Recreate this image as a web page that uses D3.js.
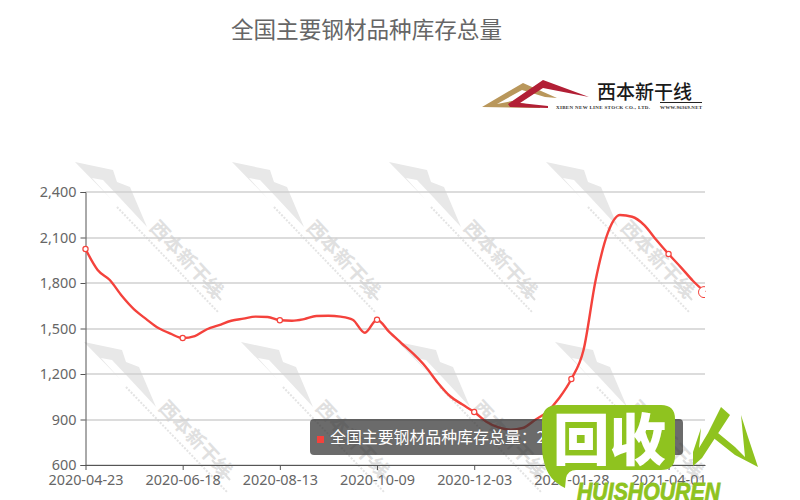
<!DOCTYPE html>
<html>
<head>
<meta charset="utf-8">
<script src="https://cdn.jsdelivr.net/npm/d3@7/dist/d3.min.js"></script>
<style>
html,body{margin:0;padding:0;background:#fff;overflow:hidden}
svg{display:block}
text{font-family:"Noto Sans","Noto Sans CJK SC",sans-serif}
</style>
</head>
<body>
<svg id="c" width="800" height="500"></svg>
<script>
const dates = ["2020-04-23","2020-04-30","2020-05-07","2020-05-14","2020-05-21","2020-05-28","2020-06-04","2020-06-11","2020-06-18","2020-06-25","2020-07-02","2020-07-09","2020-07-16","2020-07-23","2020-07-30","2020-08-06","2020-08-13","2020-08-20","2020-08-27","2020-09-03","2020-09-10","2020-09-17","2020-09-24","2020-09-30","2020-10-09","2020-10-15","2020-10-22","2020-10-29","2020-11-05","2020-11-12","2020-11-19","2020-11-26","2020-12-03","2020-12-10","2020-12-17","2020-12-24","2020-12-31","2021-01-07","2021-01-14","2021-01-21","2021-01-28","2021-02-04","2021-02-18","2021-02-25","2021-03-04","2021-03-11","2021-03-18","2021-03-25","2021-04-01","2021-04-08","2021-04-15","2021-04-22"];
const stock = [2024,1886,1820,1714,1626,1562,1503,1466,1437,1450,1495,1523,1551,1565,1578,1576,1554,1551,1562,1582,1584,1578,1558,1472,1558,1477,1404,1332,1248,1143,1055,1000,949,885,848,833,844,897,951,1042,1167,1358,1820,2130,2248,2237,2182,2083,1991,1905,1815,1740];
const xTickLabels = ["2020-04-23","2020-06-18","2020-08-13","2020-10-09","2020-12-03","2021-01-28","2021-04-01"];
const yTicks = [600,900,1200,1500,1800,2100,2400];
const seriesName = "全国主要钢材品种库存总量";
const tooltipText = "全国主要钢材品种库存总量：2";
const logoCn = "西本新干线";
const logoEn = "XIBEN NEW LINE STOCK CO., LTD.";
const logoUrl = "WWW.96369.NET";
const badgeCn = "回收";
const badgeEn = "HUISHOUREN";
const wmOrigins = [[75,162],[232,162],[389,162],[546,162],[84,342],[241,342],[398,342],[555,342]];

const svg = d3.select("#c");
const x = d3.scalePoint().domain(dates).range([85.5,705]);
const y = d3.scaleLinear().domain([600,2400]).range([465,192]);

// watermarks
const wm = svg.append("g").selectAll("g").data(wmOrigins).join("g")
  .attr("transform", d => `translate(${d[0]},${d[1]})`);
wm.append("path").attr("fill","#e8e8e8")
  .attr("d","M0,0L38,8L42,20L55,25L72,65L45,36L28,18L17,16L37,38Z");
wm.append("line").attr("x1",42).attr("y1",45).attr("x2",143).attr("y2",150)
  .attr("stroke","#e4e4e4").attr("stroke-width",2).attr("stroke-dasharray","2 1.5");
wm.append("line").attr("x1",128).attr("y1",118).attr("x2",146).attr("y2",138)
  .attr("stroke","#dedede").attr("stroke-width",2);
wm.append("text").text(logoCn).attr("text-anchor","middle").attr("dominant-baseline","central")
  .attr("font-size",19).attr("font-weight",700).attr("fill","#e0e0e0").attr("letter-spacing",0.5)
  .style("font-family","'Noto Sans CJK SC'")
  .attr("transform","translate(113,96) rotate(47)");

// grid
svg.append("g").selectAll("line").data(yTicks).join("line")
  .attr("x1",85.5).attr("x2",705)
  .attr("y1",d=>Math.round(y(d))).attr("y2",d=>Math.round(y(d)))
  .attr("stroke","#d0d0d0").attr("stroke-width",1.3);

// axes
const gy = svg.append("g").attr("transform","translate(85.5,0)")
  .call(d3.axisLeft(y).tickValues(yTicks).tickFormat(d3.format(",")).tickSize(5).tickPadding(4));
const gx = svg.append("g").attr("transform","translate(0,465)")
  .call(d3.axisBottom(x).tickValues(xTickLabels).tickSize(5).tickSizeOuter(0).tickPadding(5));
[gy,gx].forEach(g=>{
  g.selectAll(".domain,line").attr("stroke","#555");
  g.selectAll("text").attr("fill","#666").attr("font-size",14.4)
    .style("font-family","'Noto Sans',sans-serif");
});

// line
const lineGen = d3.line().x((d,i)=>x(dates[i])).y(d=>y(d)).curve(d3.curveMonotoneX);
svg.append("path").datum(stock).attr("fill","none").attr("stroke","#f4423c")
  .attr("stroke-width",2.4).attr("stroke-linejoin","round").attr("d",lineGen);

// points on labelled dates
svg.append("g").selectAll("circle").data(xTickLabels).join("circle")
  .attr("cx",d=>x(d)).attr("cy",d=>y(stock[dates.indexOf(d)])).attr("r",2.6)
  .attr("fill","#fff").attr("stroke","#f4423c").attr("stroke-width",1.2);

// emphasised last point, clipped to plot
svg.append("clipPath").attr("id","plot").append("rect").attr("x",85).attr("y",150).attr("width",620).attr("height",320);
svg.append("circle").attr("clip-path","url(#plot)")
  .attr("cx",x(dates[dates.length-1])-1).attr("cy",y(stock[stock.length-1])).attr("r",5.5)
  .attr("fill","#fff").attr("stroke","#f4423c").attr("stroke-width",1);

// title
svg.append("text").text(seriesName).attr("x",366.5).attr("y",37.5).attr("text-anchor","middle")
  .attr("font-size",22.6).attr("fill","#666").style("font-family","'Noto Sans CJK SC'");

// company logo
const lg = svg.append("g");
lg.append("path").attr("fill","#b9975b").attr("d","M482,107L523,83L557,98L545,97L522,90L497,104L512,101L540,107L540,108Z");
lg.append("path").attr("fill","#b21f35").attr("d","M508,104L543,80L589,97L543,88L520,103L548,106L548,108L510,107Z");
lg.append("text").text(logoCn).attr("x",597).attr("y",99).attr("font-size",19).attr("fill","#1a1a1a")
  .attr("font-weight",500).style("font-family","'Noto Sans CJK SC'");
lg.append("line").attr("x1",660).attr("x2",702).attr("y1",102.5).attr("y2",102.5).attr("stroke","#222").attr("stroke-width",1);
lg.append("text").text(logoEn).attr("x",556).attr("y",109).attr("font-size",5).attr("font-weight",700).attr("fill","#333")
  .attr("textLength",94).style("font-family","'Liberation Serif'");
lg.append("text").text(logoUrl).attr("x",660).attr("y",109).attr("font-size",5).attr("font-weight",700).attr("fill","#333")
  .attr("textLength",42).style("font-family","'Liberation Serif'");

// tooltip
svg.append("rect").attr("x",310).attr("y",419).attr("width",373).attr("height",36).attr("rx",4)
  .attr("fill","rgb(50,50,50)").attr("fill-opacity",.72);
svg.append("rect").attr("x",317).attr("y",436).attr("width",7).attr("height",7).attr("fill","#f4423c");
svg.append("text").text(tooltipText).attr("x",330).attr("y",443).attr("font-size",15.9).attr("fill","#fff")
  .style("font-family","'Noto Sans CJK SC'");

// green badge
const green = "#8fc31f";
svg.append("path").attr("fill",green)
  .attr("d","M558,405H661Q675,405 675,419V456Q675,470 661,470H576Q568,470 566,478L565,488Q548,480 544,462Q542,455 542,445V421Q542,405 558,405Z");
svg.append("text").text(badgeCn).attr("x",553).attr("y",460).attr("font-size",56).attr("font-weight",900)
  .attr("fill","#fff").attr("textLength",113).attr("lengthAdjust","spacingAndGlyphs").style("font-family","'Noto Sans CJK SC'");
svg.append("text").text(badgeEn).attr("x",577).attr("y",499.5).attr("font-size",24).attr("font-weight",700)
  .attr("font-style","italic").attr("fill",green).attr("textLength",143).attr("lengthAdjust","spacingAndGlyphs")
  .style("font-family","'Liberation Sans'").attr("stroke",green).attr("stroke-width",.8);
svg.append("path").attr("fill",green)
  .attr("d","M721,407L730,415L702,458L693,466L693,452L698,437L701,428L699,448L708,433Z");
svg.append("path").attr("fill",green)
  .attr("d","M711,436L718,433L735,447L745,457L741,415L748,437L758,467L735,455Z");
</script>
</body>
</html>
